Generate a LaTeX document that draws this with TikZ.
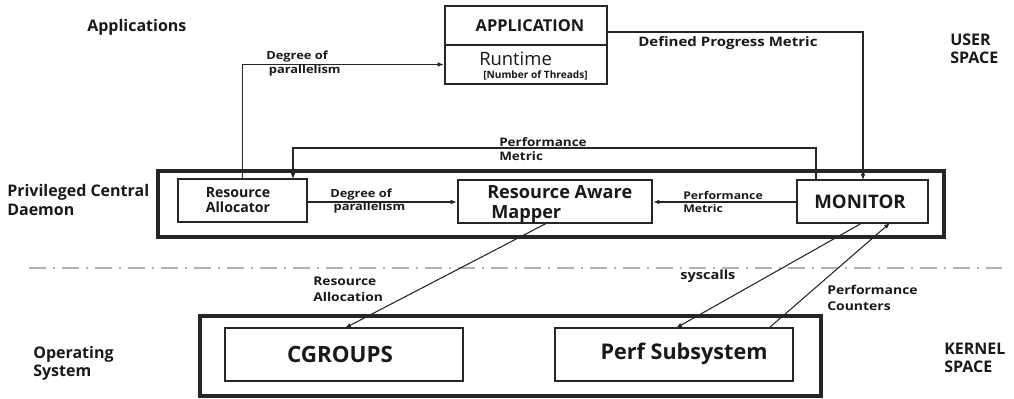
\documentclass[tikz,border=0pt]{standalone}
\usepackage{fontspec}
\setmainfont{Open Sans}
\newfontfamily\widefont[FakeStretch=1.15]{Open Sans}
\usetikzlibrary{arrows.meta,fit}

\newcommand{\lf}[2]{\widefont\bfseries\fontsize{#1}{#2}\selectfont}
\newcommand{\bfs}[2]{\bfseries\fontsize{#1}{#2}\selectfont}

\begin{document}
\begin{tikzpicture}[x=0.75pt,y=-0.75pt,
  txt/.style={inner sep=0pt, align=left, text=black!90},
  side/.style={txt, anchor=west, font=\bfs{12}{13.5}},
  inbox/.style={draw=black!85, line width=1.9pt, inner sep=0pt},
  outbox/.style={draw=black!85, line width=2.3pt, inner sep=0pt},
  flow/.style={draw=black!85, line width=0.8pt, -{Latex[length=4.5pt,width=3.5pt]}},
  sep/.style={draw=black!30, line width=1.6pt, dash pattern=on 12.75pt off 5.25pt on 1.5pt off 5.25pt},
]
\useasboundingbox (0,0) rectangle (1014,399);

% ---- layer labels
\node[side] (lapp) at (87,27) {Applications};
\node[side] (lpcd) at (7,200) {Privileged Central\\Daemon};
\node[side] (los) at (33,363) {Operating\\System};
\node[side] (luser) at (950,49) {USER\\SPACE};
\node[side] (lkern) at (944,358) {KERNEL\\SPACE};

% ---- application
\node[inbox, fit={(445,6)(607,45)}] (app) {};
\node[txt, font=\bfs{12.3}{14}] (apptxt) at (530,26) {APPLICATION};
\node[inbox, fit={(445,45)(607,84)}] (rt) {};
\node[txt, anchor=west, font=\fontsize{13.8}{15}\selectfont] (rttxt) at (479,59) {Runtime};
\node[txt, anchor=west, font=\bfs{7.6}{9}] (rtsub) at (483,75) {[Number of Threads]};

% ---- privileged central daemon
\node[outbox, fit={(158,171)(944,237)}] (pcd) {};
\node[inbox, fit={(178,179)(307,222)}] (ra) {};
\node[txt, align=center, font=\bfs{10.6}{11.25}] (ratxt) at (238,200) {Resource\\Allocator};
\node[inbox, fit={(458,180)(652,223)}] (ram) {};
\node[txt, anchor=west, font=\bfs{13.6}{15}] (ramtxt) at (487,204) {Resource Aware\\\hspace{3pt}Mapper};
\node[inbox, fit={(797,180)(928,223)}] (mon) {};
\node[txt, font=\bfs{14}{16}] (montxt) at (860,202) {MONITOR};

% ---- operating system
\node[outbox, fit={(200,316)(821,396)}] (os) {};
\node[inbox, fit={(225,328)(463,381)}] (cg) {};
\node[txt, font=\bfs{16.8}{18}] (cgtxt) at (340,354) {CGROUPS};
\node[inbox, fit={(555,328)(793,381)}] (perf) {};
\node[txt, font=\bfs{16.2}{18}] (perftxt) at (684,354) {Perf Subsystem};

% ---- user/kernel boundary
\coordinate (sepL) at (29,268);
\coordinate (sepR) at (1002,268);
\draw[sep] (sepL) -- (sepR);

% ---- connectors
\draw[flow] (ra.north) |- (rt.west);
\node[txt, anchor=west, font=\lf{8.4}{10.5}] (l1) at (266,64) {Degree of\\\hspace{2pt}parallelism};

\draw[flow] (app.east |- 0,32) -| (863,180);
\node[txt, anchor=west, font=\lf{9.8}{12}] (l2) at (638,43) {Defined Progress Metric};

\draw[flow] (816,180) |- (293,148) -- (293,179);
\node[txt, anchor=west, font=\lf{8.8}{10.5}] (l3) at (499,149) {Performance\\Metric};

\draw[flow] (ra.east |- 0,202) -- (ram.west |- 0,202);
\node[txt, anchor=west, font=\lf{8.4}{10}] (l4) at (330,201) {Degree of\\\hspace{2.5pt}parallelism};

\draw[flow] (mon.west |- 0,202) -- (ram.east |- 0,202);
\node[txt, anchor=west, font=\lf{8}{10}] (l5) at (683,202) {Performance\\Metric};

\draw[flow] (547,223) -- (345,328);
\node[txt, anchor=west, font=\lf{9}{12}] (l6) at (313,289) {Resource\\Allocation};

\draw[flow] (862,223) -- (676,328);
\node[txt, anchor=west, font=\lf{9.5}{11}] (l7) at (680,276) {syscalls};

\draw[flow] (769,328) -- (890,223);
\node[txt, anchor=west, font=\lf{9.1}{12.5}] (l8) at (827,298) {Performance\\Counters};
\end{tikzpicture}
\end{document}
